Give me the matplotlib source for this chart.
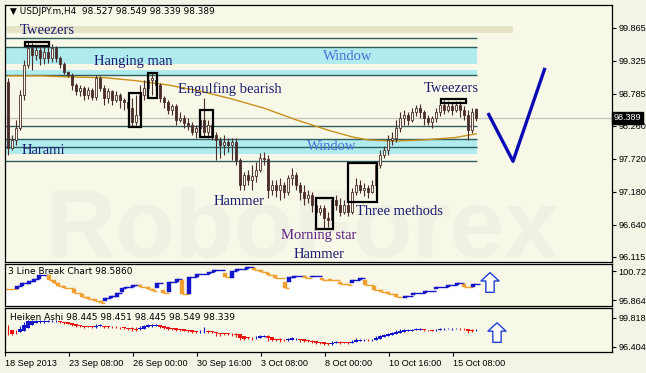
import matplotlib.pyplot as plt
import numpy as np

# USDJPY H4 candles, bar 0 = first bar on the left
opens = [98.98, 97.90, 98.03, 98.23, 98.77, 99.26, 99.54, 99.42, 99.50, 99.37,
         99.47, 99.37, 99.54, 99.37, 99.28, 99.14, 99.10, 98.93, 98.83, 98.88,
         98.77, 98.85, 98.74, 99.05, 98.88, 98.72, 98.83, 98.69, 98.77, 98.69,
         98.65, 98.55, 98.33, 98.44, 98.77, 98.88, 99.01, 99.01, 98.93, 98.72,
         98.65, 98.52, 98.59, 98.36, 98.39, 98.31, 98.28, 98.16, 98.23, 98.36,
         98.16, 98.28, 98.11, 98.03, 97.95, 98.00, 97.95, 98.00, 97.70, 97.29,
         97.46, 97.38, 97.44, 97.54, 97.74, 97.72, 97.21, 97.29, 97.21, 97.29,
         97.18, 97.41, 97.46, 97.29, 97.18, 97.08, 97.13, 96.97, 96.85, 96.92,
         96.75, 96.72, 97.05, 96.97, 96.85, 96.97, 96.85, 97.18, 97.29, 97.21,
         97.25, 97.18, 97.29, 97.62, 97.78, 97.87, 98.03, 98.06, 98.23, 98.39,
         98.44, 98.36, 98.49, 98.55, 98.49, 98.39, 98.33, 98.39, 98.49, 98.60,
         98.52, 98.59, 98.52, 98.60, 98.52, 98.44, 98.19, 98.53]
highs = [99.05, 98.11, 98.36, 98.85, 99.34, 99.64, 99.62, 99.57, 99.59, 99.55,
         99.64, 99.60, 99.57, 99.41, 99.31, 99.16, 99.13, 98.96, 98.93, 98.92,
         98.90, 98.88, 99.10, 99.08, 98.93, 98.88, 98.85, 98.83, 98.80, 98.72,
         98.69, 98.72, 98.77, 98.93, 99.01, 99.08, 99.13, 99.06, 98.96, 98.75,
         98.69, 98.62, 98.62, 98.49, 98.44, 98.39, 98.33, 98.28, 98.39, 98.72,
         98.36, 98.31, 98.16, 98.08, 98.11, 98.06, 98.06, 98.06, 97.74, 97.51,
         97.54, 97.62, 97.67, 97.82, 97.83, 97.78, 97.38, 97.38, 97.41, 97.34,
         97.46, 97.57, 97.51, 97.34, 97.29, 97.21, 97.18, 97.05, 96.97, 96.97,
         96.85, 97.08, 97.13, 97.08, 97.05, 97.05, 97.25, 97.41, 97.38, 97.33,
         97.29, 97.38, 97.67, 97.87, 97.93, 98.11, 98.16, 98.36, 98.49, 98.52,
         98.49, 98.55, 98.60, 98.62, 98.52, 98.44, 98.42, 98.55, 98.69, 98.69,
         98.67, 98.65, 98.67, 98.67, 98.59, 98.52, 98.55, 98.55]
lows = [97.78, 97.87, 97.95, 98.19, 98.69, 99.21, 99.18, 99.34, 99.26, 99.28,
        99.29, 99.31, 99.31, 99.21, 99.11, 99.06, 98.85, 98.77, 98.75, 98.69,
        98.70, 98.69, 98.69, 98.83, 98.60, 98.64, 98.60, 98.65, 98.55, 98.52,
        98.39, 98.26, 98.28, 98.39, 98.69, 98.83, 98.77, 98.85, 98.65, 98.55,
        98.46, 98.44, 98.28, 98.33, 98.23, 98.19, 98.11, 98.06, 98.11, 98.08,
        98.06, 98.03, 97.70, 97.74, 97.78, 97.83, 97.70, 97.62, 97.21, 97.21,
        97.29, 97.21, 97.34, 97.51, 97.62, 97.08, 97.13, 97.10, 97.05, 97.08,
        97.13, 97.29, 97.21, 97.05, 96.97, 97.00, 96.85, 96.75, 96.80, 96.59,
        96.61, 96.69, 96.89, 96.79, 96.82, 96.79, 96.82, 97.13, 97.16, 97.11,
        97.08, 97.16, 97.25, 97.57, 97.74, 97.78, 97.95, 98.00, 98.16, 98.28,
        98.28, 98.33, 98.42, 98.39, 98.28, 98.28, 98.23, 98.33, 98.42, 98.46,
        98.49, 98.44, 98.49, 98.41, 98.36, 98.03, 98.15, 98.34]
closes = [97.90, 98.03, 98.23, 98.77, 99.26, 99.54, 99.42, 99.50, 99.37, 99.47,
          99.37, 99.54, 99.37, 99.28, 99.14, 99.10, 98.93, 98.83, 98.88, 98.77,
          98.85, 98.74, 99.05, 98.88, 98.72, 98.83, 98.69, 98.77, 98.69, 98.65,
          98.55, 98.33, 98.44, 98.77, 98.88, 99.01, 99.05, 98.93, 98.72, 98.65,
          98.52, 98.59, 98.36, 98.39, 98.31, 98.28, 98.16, 98.23, 98.36, 98.16,
          98.28, 98.11, 98.03, 97.95, 98.00, 97.95, 98.00, 97.70, 97.29, 97.46,
          97.38, 97.44, 97.54, 97.74, 97.72, 97.21, 97.29, 97.21, 97.29, 97.18,
          97.41, 97.46, 97.29, 97.18, 97.08, 97.13, 96.97, 96.85, 96.92, 96.75,
          96.72, 97.05, 96.97, 96.85, 96.97, 96.85, 97.18, 97.29, 97.21, 97.25,
          97.18, 97.29, 97.62, 97.78, 97.87, 98.03, 98.06, 98.23, 98.39, 98.44,
          98.36, 98.49, 98.55, 98.49, 98.39, 98.33, 98.39, 98.49, 98.60, 98.52,
          98.59, 98.52, 98.60, 98.52, 98.44, 98.19, 98.49, 98.39]

# moving average read at a few bars
ma_bar = [0, 8, 16, 24, 32, 40, 48, 56, 64, 72, 80, 86, 90, 96, 104, 112, 117]
ma_val = [99.08, 99.08, 99.06, 99.05, 99.00, 98.93, 98.83, 98.70, 98.55, 98.36,
          98.19, 98.08, 98.03, 98.01, 98.03, 98.07, 98.13]

# support / resistance levels and zones
level_lines = [99.70, 99.56, 99.09, 98.26, 98.05, 97.92, 97.68]
zone_low = [99.27, 99.10, 97.80]
zone_high = [99.56, 99.18, 98.03]
top_zone = (99.78, 99.90)
last_price = 98.389
price_ticks = [99.865, 99.325, 98.785, 98.260, 97.720, 97.180, 96.640, 96.115]

# pattern labels
pattern_names = ['Tweezers', 'Hanging man', 'Engulfing bearish', 'Window', 'Window',
                 'Harami', 'Hammer', 'Morning star', 'Hammer', 'Three methods', 'Tweezers']
pattern_x = [3, 21.5, 42.5, 78.75, 74.75, 3.5, 51.5, 68.25, 71.5, 87, 104]
pattern_y = [99.83, 99.31, 98.87, 99.39, 97.92, 97.85, 97.02, 96.46, 96.16, 96.85, 98.87]
pattern_colors = ['#1c1c70', '#1c1c70', '#1c1c70', '#4a70d8', '#4a70d8', '#1c1c70',
                  '#1c1c70', '#5a1e82', '#1c1c70', '#1c1c70', '#1c1c70']

# pattern boxes: bar from, bar to, price low, price high
box_x0 = [4.25, 30.25, 35, 48, 77, 85, 108.25]
box_x1 = [10.25, 33.25, 37.25, 51.25, 81.25, 92.25, 114.5]
box_lo = [99.57, 98.24, 98.72, 98.08, 96.57, 97.02, 98.64]
box_hi = [99.64, 98.80, 99.13, 98.52, 97.08, 97.65, 98.70]

# forecast
fc_bar = [120, 126.25, 134.25]
fc_price = [98.47, 97.68, 99.21]

# 3 line break bricks
lb_pos = [2.25, 3.5, 5.25, 6.5, 7.75, 10.25, 11.5, 12.5, 14, 16.5, 18.5, 20, 21.75,
          23.25, 24.25, 25.75, 27.25, 28.5, 29.5, 31.25, 33, 35, 36.25, 37.25, 38.75,
          40.25, 42.25, 43.5, 45.25, 47.25, 50.25, 51.5, 54.25, 56, 57.25, 59.75, 61.5,
          63.25, 65, 66.75, 69.25, 70.25, 71.5, 74.25, 76, 78.5, 80.5, 83, 85, 86, 88,
          89.25, 91.5, 93.25, 95, 97, 99.25, 101.25, 104.25, 107, 110, 112.25, 114, 116.25]
lb_open = [97.71, 98.21, 98.55, 98.88, 99.38, 100.05, 99.22, 98.71, 98.21, 97.71,
           96.87, 96.37, 96.03, 95.70, 95.70, 96.20, 96.37, 97.20, 97.87, 98.04,
           98.38, 98.04, 97.71, 97.87, 97.54, 97.20, 98.88, 99.22, 96.87, 99.72,
           100.22, 100.56, 100.39, 99.55, 100.72, 101.06, 101.23, 100.89, 100.39, 100.05,
           98.88, 98.88, 99.55, 99.89, 99.72, 99.55, 99.38, 98.88, 98.55, 98.71,
           99.22, 99.22, 98.21, 97.54, 97.20, 96.87, 96.20, 96.70, 97.04, 97.71,
           98.04, 98.38, 98.55, 98.04]
lb_close = [98.21, 98.71, 99.05, 99.38, 100.05, 99.22, 98.71, 98.21, 97.87, 97.04,
            96.37, 96.03, 95.70, 95.36, 96.20, 96.53, 97.04, 97.87, 98.04, 98.38,
            98.04, 97.71, 97.37, 98.71, 97.04, 98.88, 99.38, 96.87, 99.72, 100.22,
            100.56, 100.89, 99.72, 100.72, 101.06, 101.39, 100.89, 100.56, 100.05, 99.55,
            97.87, 99.72, 99.89, 99.55, 99.89, 99.22, 99.14, 98.55, 98.38, 99.22,
            99.55, 98.38, 97.54, 97.20, 96.87, 96.37, 96.53, 97.04, 97.37, 98.04,
            98.38, 98.71, 98.04, 98.59]

time_pos = [-0.75, 15.25, 31.25, 47.25, 63.25, 79.25, 95.25, 111.25]
time_labels = ['18 Sep 2013', '23 Sep 08:00', '26 Sep 00:00', '30 Sep 16:00',
               '3 Oct 08:00', '8 Oct 00:00', '10 Oct 16:00', '15 Oct 08:00']

BG = '#f8f8e8'
CANDLE = '#4a2c2a'
TEAL = '#2e5e5e'
CYAN = '#b0ecee'
BLUE = '#1414c8'
ORANGE = '#f0a030'
RED = '#ee1111'
XLIM = (-0.75, 151)
AXFONT = 'Liberation Sans'

plt.rcParams['font.family'] = 'DejaVu Sans'
W, H = 646, 373
fig = plt.figure(figsize=(W / 100, H / 100), dpi=100, facecolor='#f4f4e6')
ax = fig.add_axes([5 / W, 1 - 262 / H, 607 / W, 257 / H], facecolor=BG)
ax2 = fig.add_axes([5 / W, 1 - 306 / H, 607 / W, 42 / H], facecolor=BG)
ax3 = fig.add_axes([5 / W, 1 - 352 / H, 607 / W, 44 / H], facecolor=BG)

for a in (ax, ax2, ax3):
    a.set_xlim(*XLIM)
    a.yaxis.tick_right()
    a.tick_params(axis='y', length=3, labelsize=6.6, pad=1.5, width=0.8)
    for s in a.spines.values():
        s.set_linewidth(0.9)
ax.set_ylim(96.03, 100.24)
ax2.set_ylim(94.86, 101.90)
ax3.set_ylim(95.815, 100.995)
ax.tick_params(axis='x', bottom=False, labelbottom=False)
ax2.tick_params(axis='x', bottom=False, labelbottom=False)

# ---- main panel ----
ax.text(0.066, 0.02, 'RoboForex', transform=ax.transAxes, fontsize=70,
        fontweight='bold', family='Liberation Sans', color='#f0f0e3', zorder=0.5)

ax.fill_between([XLIM[0], 126.25], top_zone[0], top_zone[1], color='#e6e3c8', lw=0, zorder=1)
for lo, hi in zip(zone_low, zone_high):
    ax.fill_between([XLIM[0], 117.25], lo, hi, color=CYAN, lw=0, zorder=1)
ax.hlines(level_lines, XLIM[0], 117.25, color=TEAL, lw=1, zorder=1.5)
ax.axhline(last_price, color='#c4c4c0', lw=0.9, zorder=1.5)
ax.plot(ma_bar, ma_val, color='#c8901a', lw=1, zorder=2)

o, h, l, c = map(np.array, (opens, highs, lows, closes))
x = np.arange(len(c))
up = c >= o
ax.vlines(x, l, h, color=CANDLE, lw=0.8, zorder=3)
ax.bar(x, np.maximum(np.abs(c - o), 0.012), bottom=np.minimum(o, c), width=0.72,
       color=np.where(up, BG, CANDLE), edgecolor=CANDLE, linewidth=0.6, zorder=4)

for x0, x1, lo, hi in zip(box_x0, box_x1, box_lo, box_hi):
    ax.add_patch(plt.Rectangle((x0, lo), x1 - x0, hi - lo, fill=False,
                               ec='black', lw=1.6, zorder=5))

for name, px, py, col in zip(pattern_names, pattern_x, pattern_y, pattern_colors):
    ax.text(px, py, name, fontsize=10.5, family='Liberation Serif', color=col,
            va='center', ha='left', zorder=6)

ax.plot(fc_bar, fc_price, color='#0a0ab4', lw=2.4, zorder=6, solid_capstyle='butt')

ax.set_yticks(price_ticks)
ax.set_yticklabels([f'{v:.3f}' for v in price_ticks], family=AXFONT)
ax.text(1.003, last_price, f'{last_price:.3f}', transform=ax.get_yaxis_transform(),
        va='center', ha='left', fontsize=6.6, color='white', family=AXFONT,
        bbox=dict(boxstyle='square,pad=0.2', fc='black', ec='black'))
fig.text(10 / W, 1 - 12 / H, '\u25bc USDJPY.m,H4  98.527 98.549 98.339 98.389',
         fontsize=6.4, va='center', ha='left')

# ---- 3 line break ----
step_x = [XLIM[0]] + lb_pos + [118]
step_y = [lb_open[0]] + lb_close + [lb_close[-1]]
ax2.fill_between(step_x, step_y, 94.86, step='post', color='white', lw=0, zorder=1)
lb_col = [BLUE if cl > op else ORANGE for op, cl in zip(lb_open, lb_close)]
ax2.hlines([lb_open[0]] + lb_close, [XLIM[0]] + lb_pos, lb_pos + [118],
           colors=[ORANGE] + lb_col, lw=1, zorder=2)
for p, op, cl, col in zip(lb_pos, lb_open, lb_close, lb_col):
    ax2.add_patch(plt.Rectangle((p - 0.45, min(op, cl)), 0.9, abs(cl - op),
                                fc=col, ec=col, lw=0.3, zorder=3))
ax2.set_yticks([100.7235, 95.8641])
ax2.set_yticklabels(['100.7235', '95.8641'], family=AXFONT)
ax2.text(3 / 607, 1 - 8 / 42, '3 Line Break Chart 98.5860', transform=ax2.transAxes,
         fontsize=6.5, va='center', ha='left', zorder=2.5)
ax2.annotate('', xy=(120.5, 100.45), xytext=(120.5, 97.15),
             arrowprops=dict(arrowstyle='simple,head_length=0.6,head_width=1.3,tail_width=0.6',
                             fc='white', ec='#1f3fd0', lw=1, mutation_scale=10,
                             shrinkA=0, shrinkB=0))

# ---- heiken ashi ----
ha_close = (o + h + l + c) / 4
ha_open = np.empty_like(ha_close)
ha_open[0] = (o[0] + c[0]) / 2
for i in range(1, len(c)):
    ha_open[i] = (ha_open[i - 1] + ha_close[i - 1]) / 2
ha_high = np.maximum(h, np.maximum(ha_open, ha_close))
ha_low = np.minimum(l, np.minimum(ha_open, ha_close))
ha_col = np.where(ha_close >= ha_open, BLUE, RED)
ax3.vlines(x, ha_low, ha_high, colors=ha_col, lw=0.8, zorder=2)
ax3.bar(x, np.maximum(np.abs(ha_close - ha_open), 0.03), bottom=np.minimum(ha_open, ha_close),
        width=0.85, color=ha_col, lw=0, zorder=3)
ax3.set_yticks([99.818, 96.404])
ax3.set_yticklabels(['99.818', '96.404'], family=AXFONT)
ax3.text(5 / 607, 1 - 9 / 44, 'Heiken Ashi 98.445 98.451 98.445 98.549 98.339',
         transform=ax3.transAxes, fontsize=6.5, va='center', ha='left', zorder=1.5)
ax3.annotate('', xy=(122.25, 99.25), xytext=(122.25, 96.95),
             arrowprops=dict(arrowstyle='simple,head_length=0.6,head_width=1.3,tail_width=0.6',
                             fc='white', ec='#1f3fd0', lw=1, mutation_scale=10,
                             shrinkA=0, shrinkB=0))

ax3.set_xticks(time_pos)
ax3.set_xticklabels(time_labels, family=AXFONT)
ax3.tick_params(axis='x', length=3, labelsize=6.6, pad=2, width=0.8)
plt.setp(ax3.get_xticklabels(), ha='left')

fig.savefig('out.png', dpi=100, facecolor=fig.get_facecolor())
